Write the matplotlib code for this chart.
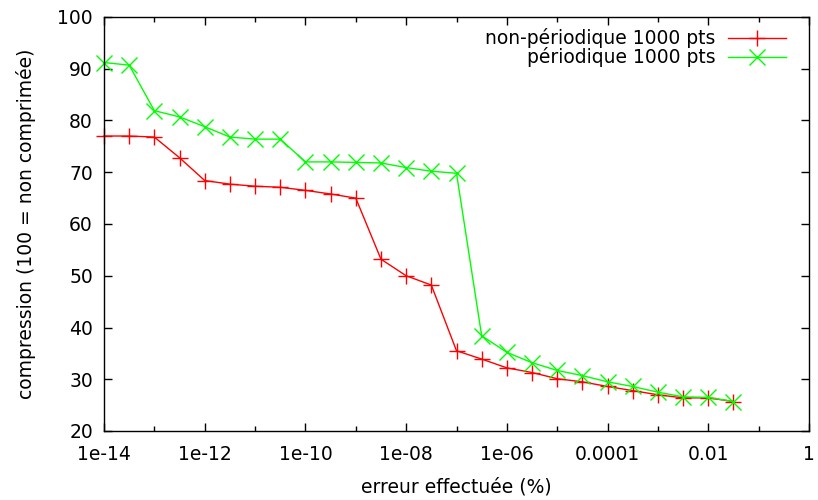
import matplotlib
matplotlib.use("Agg")
import matplotlib.pyplot as plt
from matplotlib.ticker import NullLocator

# erreur (%) : demi-decades de 1e-14 a ~3e-2
exposants = [-14.0, -13.5, -13.0, -12.5, -12.0, -11.5, -11.0, -10.5, -10.0, -9.5,
             -9.0, -8.5, -8.0, -7.5, -7.0, -6.5, -6.0, -5.5, -5.0, -4.5,
             -4.0, -3.5, -3.0, -2.5, -2.0, -1.5]
erreur = [10 ** e for e in exposants]

non_periodique = [77.0, 77.0, 76.8, 72.8, 68.4, 67.7, 67.3, 67.1, 66.5, 65.8,
                  65.0, 53.2, 50.0, 48.2, 35.5, 33.9, 32.2, 31.3, 30.1, 29.5,
                  28.6, 27.8, 27.0, 26.4, 26.4, 25.7]
periodique = [91.2, 90.7, 81.9, 80.7, 78.8, 76.8, 76.4, 76.4, 72.0, 72.0,
              71.9, 71.8, 70.9, 70.2, 69.8, 38.4, 35.2, 33.2, 31.7, 30.7,
              29.5, 28.6, 27.5, 26.6, 26.5, 25.7]

xticks = [1e-14, 1e-12, 1e-10, 1e-8, 1e-6, 1e-4, 1e-2, 1]
xlabels = ["1e-14", "1e-12", "1e-10", "1e-08", "1e-06", "0.0001", "0.01", "1"]
xminor = [1e-13, 1e-11, 1e-9, 1e-7, 1e-5, 1e-3, 1e-1]
yticks = [20, 30, 40, 50, 60, 70, 80, 90, 100]

plt.rcParams.update({
    "font.family": "DejaVu Sans",
    "font.size": 13.5,
})

fig = plt.figure(figsize=(8.18, 5.0), dpi=100)
ax = fig.add_axes([104 / 818, 1 - 431 / 500, 705 / 818, 414 / 500])

ax.plot(erreur, non_periodique, color="#ff0000", lw=1, marker="+",
        markersize=11, markeredgewidth=1, clip_on=False,
        label="non-périodique 1000 pts")
ax.plot(erreur, periodique, color="#00ff00", lw=1, marker="x",
        markersize=12, markeredgewidth=1, clip_on=False,
        label="périodique 1000 pts")

ax.set_xscale("log")
ax.set_xlim(1e-14, 1)
ax.set_ylim(20, 100)
ax.set_xticks(xticks)
ax.set_xticklabels(xlabels)
ax.set_xticks(xminor, minor=True)
ax.set_xticklabels([], minor=True)
ax.set_yticks(yticks)
ax.yaxis.set_minor_locator(NullLocator())

ax.tick_params(which="both", direction="in", top=True, right=True, width=1)
ax.tick_params(which="major", length=6)
ax.tick_params(which="minor", length=3.5)
ax.tick_params(axis="x", pad=10)
ax.tick_params(axis="y", pad=8)
for s in ax.spines.values():
    s.set_linewidth(1)

ax.set_xlabel("erreur effectuée (%)", labelpad=9.5)
ax.set_ylabel("compression (100 = non comprimée)", labelpad=15)

ax.legend(loc="upper right", bbox_to_anchor=(1 - 14 / 705, 1 - 2 / 414),
          frameon=False, markerfirst=False, borderpad=0,
          handlelength=3.1, labelspacing=-0.05, handletextpad=0.65)

fig.savefig("out.png", dpi=100)
plt.close(fig)
